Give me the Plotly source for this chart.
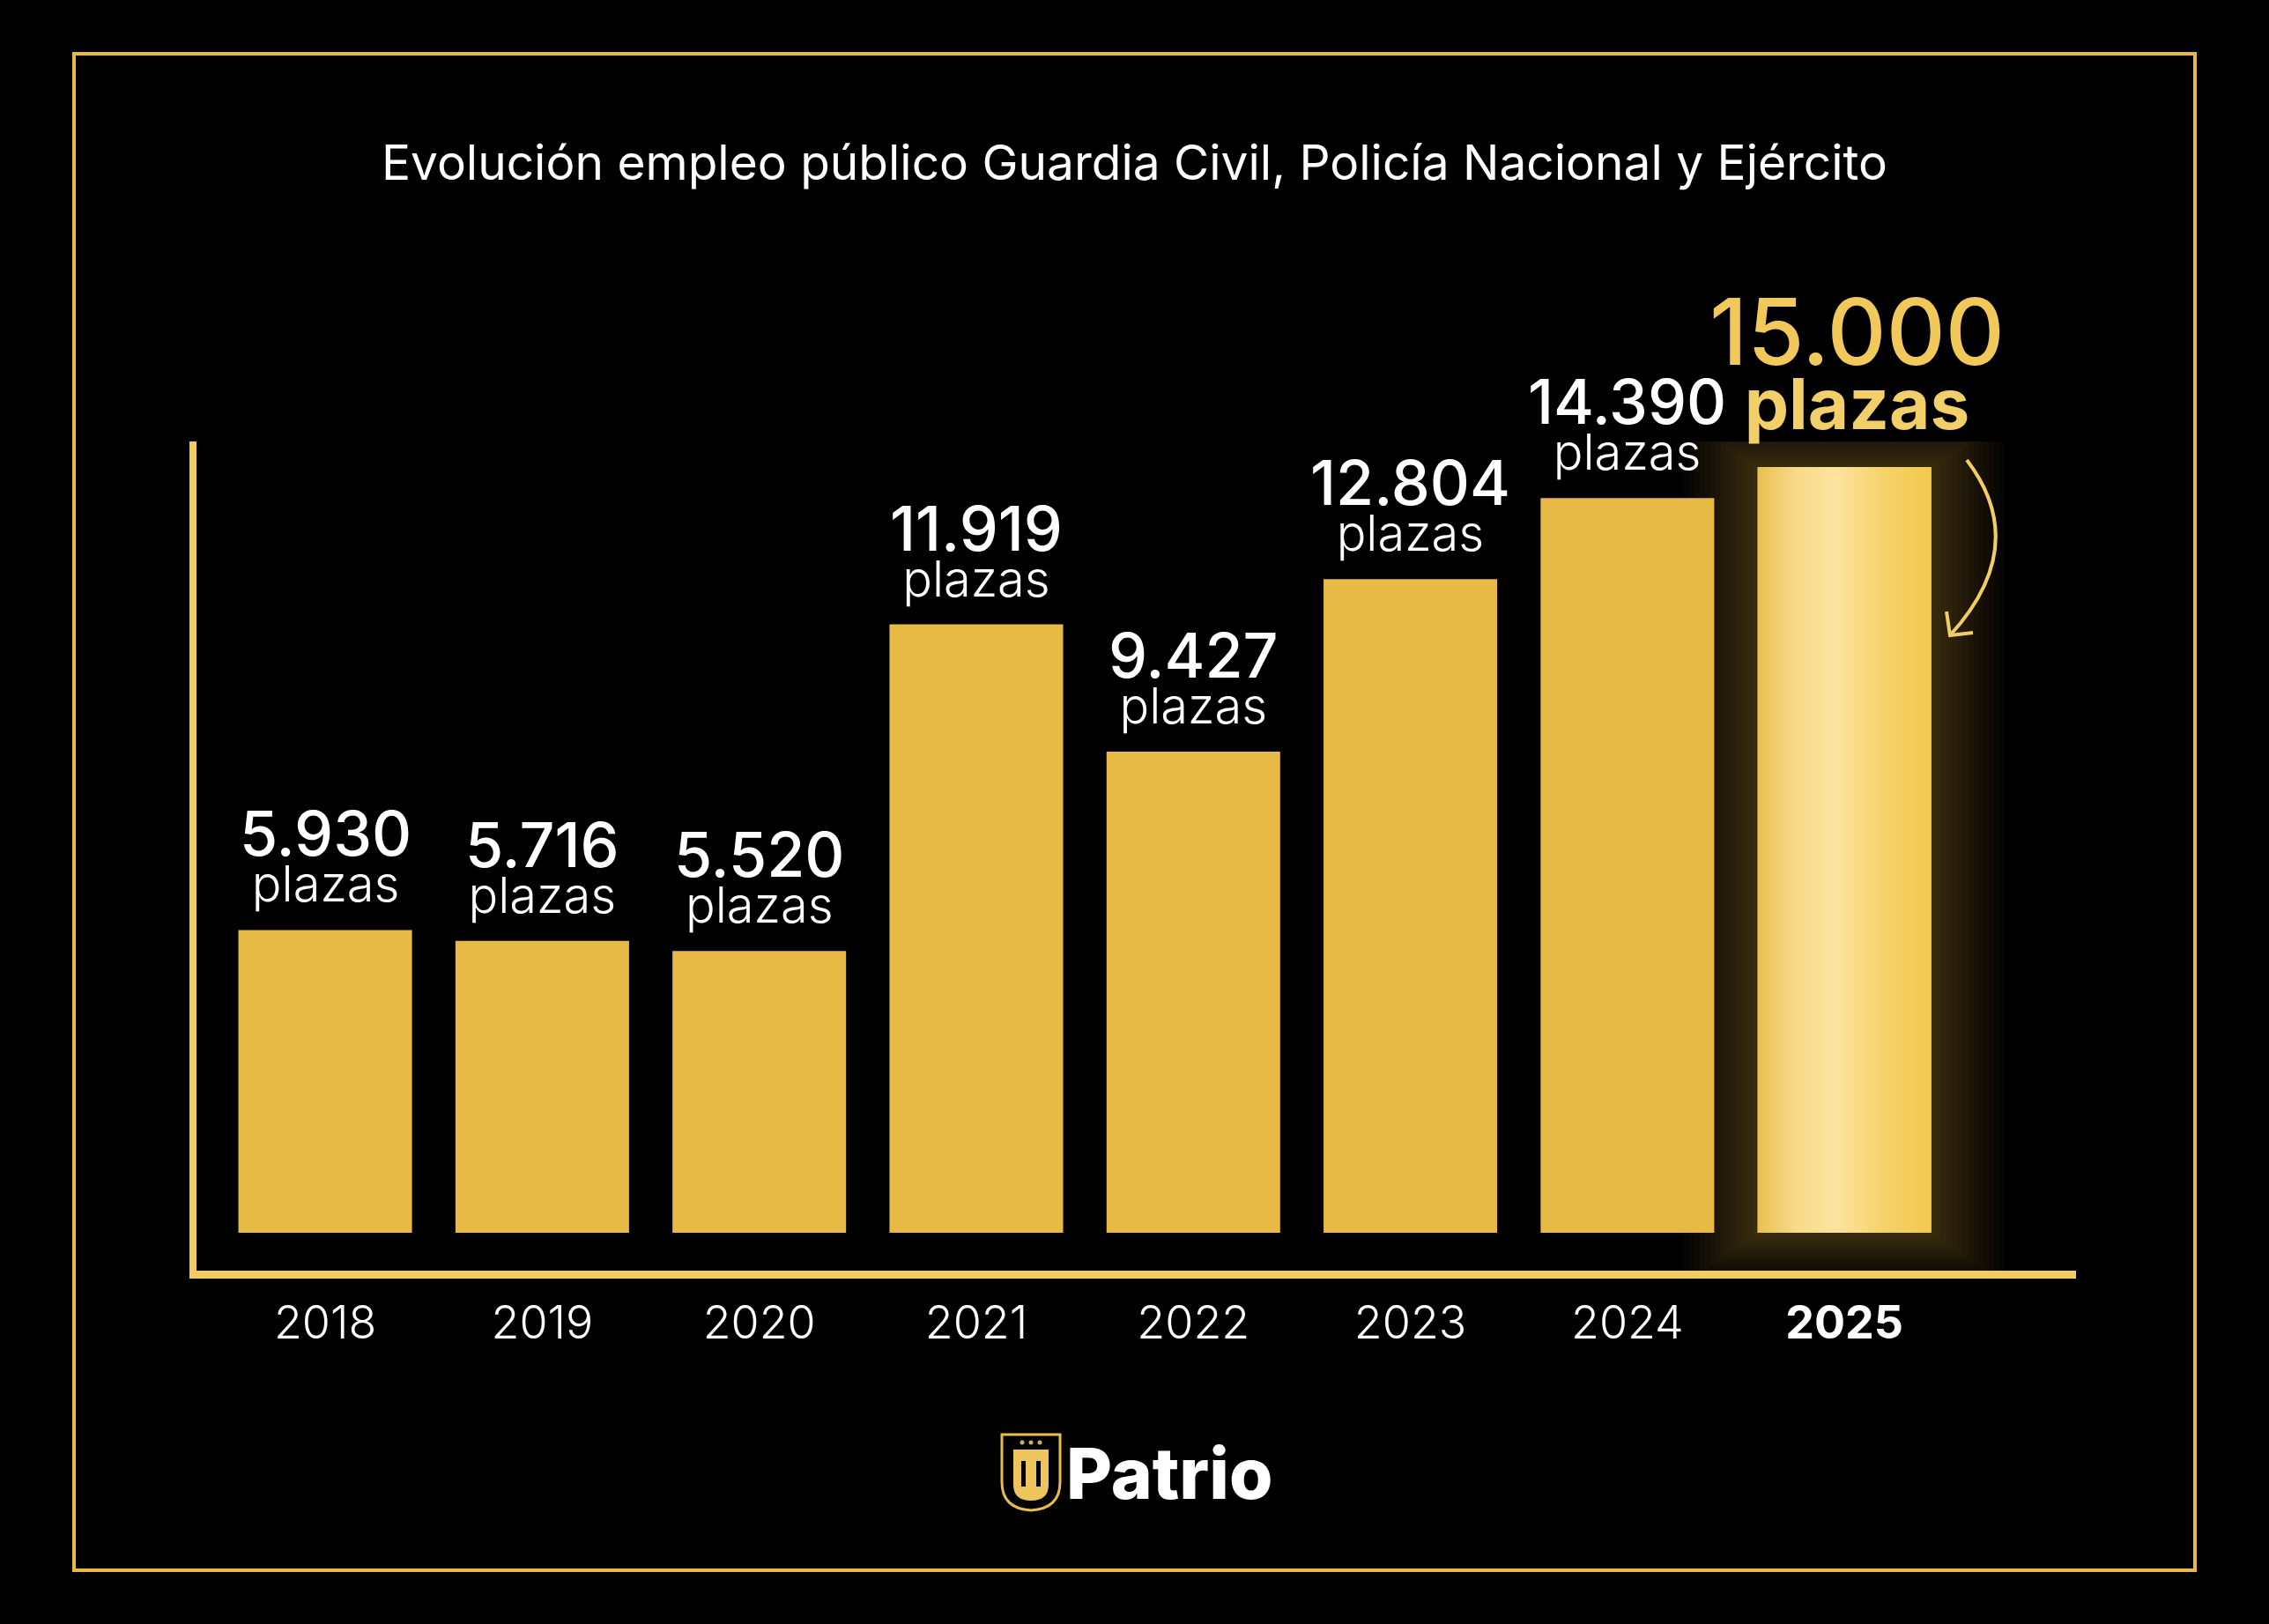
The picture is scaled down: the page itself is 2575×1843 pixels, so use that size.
import plotly.graph_objects as go

# Data
years = ['2018', '2019', '2020', '2021', '2022', '2023', '2024', '2025']
plazas = [5930, 5716, 5520, 11919, 9427, 12804, 14390, 15000]
value_labels = ['5.930', '5.716', '5.520', '11.919', '9.427', '12.804',
                '14.390', '15.000']
unit_label = 'plazas'
title_text = 'Evolución empleo público Guardia Civil, Policía Nacional y Ejército'
brand = 'Patrio'

W, H = 2575, 1843
L, R, T, B = 223, 2356, 501, 1442      # plot area in page pixels
BAR_W = 0.8
GOLD = '#E6BA45'
LINE_GOLD = '#F2CC62'
FONT = 'Inter, Lato, sans-serif'

x_pos = list(range(len(years)))
x_range = [-0.593, 8.067]
y_range = [-742, 15501]
px_per_y = (B - T) / (y_range[1] - y_range[0])
px_per_x = (R - L) / (x_range[1] - x_range[0])


def paper(x, y):
    # page pixel -> paper coordinates
    return (x - L) / (R - L), (B - y) / (B - T)


def pt(x, y):
    a, b = paper(x, y)
    return f'{a:.5f},{b:.5f}'


fig = go.Figure()

# soft glow behind the highlighted 2025 bar
last = len(years) - 1
for k in range(1, 15):
    dx = k * 6 / px_per_x
    dy = k * 4 / px_per_y
    fig.add_trace(go.Bar(
        x=[x_pos[last]], y=[plazas[last] + 2 * dy], base=[-dy],
        width=[BAR_W + 2 * dx],
        marker=dict(color='rgba(232,186,70,0.022)', line_width=0),
        hoverinfo='skip'))

# main bars
fig.add_trace(go.Bar(
    x=x_pos, y=plazas, width=BAR_W,
    marker=dict(color=[GOLD] * last + ['#F3CE66'], line_width=0),
    hovertemplate='%{y}<extra></extra>'))

# gradient fill over the 2025 bar
x0 = x_pos[last] - BAR_W / 2
x1 = x_pos[last] + BAR_W / 2
fig.add_trace(go.Scatter(
    x=[x0, x1, x1, x0, x0], y=[0, 0, plazas[last], plazas[last], 0],
    mode='lines', line=dict(width=0), fill='toself',
    fillgradient=dict(type='horizontal', colorscale=[
        [0, '#EAC04F'], [0.22, '#F7DA8A'], [0.45, '#FCE49E'],
        [0.72, '#F6D26C'], [1, '#F4C84F']]),
    hoverinfo='skip'))

annotations = []
for i, (v, lab) in enumerate(zip(plazas, value_labels)):
    if i == last:
        annotations.append(dict(
            x=i, y=v, showarrow=False, yanchor='bottom',
            yshift=22, xshift=14,
            text=(f"<span style='font-size:104px;font-weight:500;color:#F0C95A'>"
                  f"{lab}</span><br>"
                  f"<span style='font-size:80px;font-weight:700'>{unit_label}</span>"),
            font=dict(family=FONT, size=56, color='#F3CF6A', weight=700)))
    else:
        annotations.append(dict(
            x=i, y=v, showarrow=False, yanchor='bottom', yshift=16,
            text=(f"<span style='font-size:70px;font-weight:500'>{lab}</span><br>"
                  f"<span style='font-size:56px;font-weight:300'>{unit_label}</span>"),
            font=dict(family=FONT, size=40, color='white', weight=500)))

# brand text
bx, by = paper(1327, 1671)
annotations.append(dict(
    x=bx, y=by, xref='paper', yref='paper', text=brand, showarrow=False,
    xanchor='center', yanchor='middle',
    font=dict(family=FONT, size=80, color='white', weight=800)))

shapes = []
# outer frame
fx0, fy0 = paper(84, 1782)
fx1, fy1 = paper(2491, 61)
shapes.append(dict(type='rect', xref='paper', yref='paper',
                   x0=fx0, y0=fy0, x1=fx1, y1=fy1,
                   line=dict(color='#E8B945', width=4)))

# curved arrow pointing at the 2025 bar
shapes.append(dict(type='path', xref='paper', yref='paper',
                   path=f'M{pt(2232, 522)} Q{pt(2306, 619)} {pt(2213, 721)}',
                   line=dict(color='#F2CD66', width=4)))
shapes.append(dict(type='path', xref='paper', yref='paper',
                   path=f'M{pt(2209, 694)} L{pt(2213, 721)} L{pt(2239, 718)}',
                   line=dict(color='#F2CD66', width=4)))

# shield logo
shapes.append(dict(type='path', xref='paper', yref='paper',
                   path=(f'M{pt(1137, 1628)} L{pt(1203, 1628)} L{pt(1203, 1682)} '
                         f'Q{pt(1203, 1712)} {pt(1170, 1714)} '
                         f'Q{pt(1137, 1712)} {pt(1137, 1682)} Z'),
                   line=dict(color='#E9BD4C', width=3)))
shapes.append(dict(type='path', xref='paper', yref='paper',
                   path=(f'M{pt(1150, 1645)} L{pt(1190, 1645)} L{pt(1190, 1685)} '
                         f'Q{pt(1190, 1703)} {pt(1170, 1703)} '
                         f'Q{pt(1150, 1703)} {pt(1150, 1685)} Z'),
                   fillcolor='#EDC55C', line=dict(width=0)))
for sx in (1159, 1176):
    a0, b0 = paper(sx, 1687)
    a1, b1 = paper(sx + 5, 1658)
    shapes.append(dict(type='rect', xref='paper', yref='paper',
                       x0=a0, y0=b0, x1=a1, y1=b1,
                       fillcolor='black', line=dict(width=0)))
for sx in (1160, 1170, 1180):
    a0, b0 = paper(sx - 2.5, 1639.5)
    a1, b1 = paper(sx + 2.5, 1634.5)
    shapes.append(dict(type='circle', xref='paper', yref='paper',
                       x0=a0, y0=b0, x1=a1, y1=b1,
                       fillcolor='#C9AE6A', line=dict(width=0)))

tick_text = years[:last] + [f'<b>{years[last]}</b>']

fig.update_layout(
    width=W, height=H, autosize=False,
    margin=dict(l=L, r=W - R, t=T, b=H - B, pad=0),
    paper_bgcolor='black', plot_bgcolor='black',
    barmode='overlay', showlegend=False,
    title=dict(text=title_text, x=0.5, xref='container', xanchor='center',
               y=1 - 185 / H, yref='container', yanchor='middle',
               font=dict(family=FONT, size=55, color='white', weight=400)),
    xaxis=dict(range=x_range, showgrid=False, zeroline=False,
               showline=True, linecolor=LINE_GOLD, linewidth=9,
               tickvals=x_pos, ticktext=tick_text,
               ticks='outside', ticklen=6, tickcolor='rgba(0,0,0,0)',
               tickfont=dict(family=FONT, size=52, color='white', weight=300)),
    yaxis=dict(range=y_range, showgrid=False, zeroline=False,
               showticklabels=False, showline=True,
               linecolor=LINE_GOLD, linewidth=8),
    annotations=annotations, shapes=shapes,
)

fig.write_html('out.html', config={'displayModeBar': False}, post_script=(
    "document.body.style.margin='0';"
    "document.body.style.background='black';"))
